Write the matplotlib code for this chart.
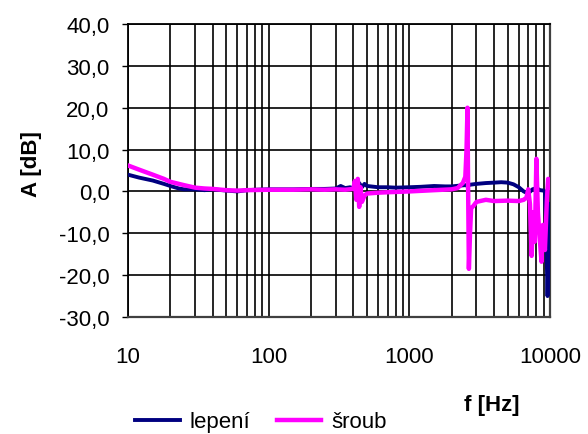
import matplotlib
matplotlib.use("Agg")
import matplotlib.pyplot as plt
from matplotlib.ticker import FixedLocator, NullFormatter, FixedFormatter

plt.rcParams['font.family'] = ['Liberation Sans', 'DejaVu Sans']

# lepení (glued)
f_lep = [10, 12, 15, 18, 20, 23, 25, 30, 35, 40, 50, 60, 70, 80, 100, 150, 200,
         250, 300, 325, 350, 380, 400, 420, 440, 460, 480, 500, 600, 700, 800,
         1000, 1200, 1500, 1800, 2000, 2300, 2500, 2600, 2700, 3000, 3500, 4000,
         4500, 5000, 5500, 6000, 6500, 7000, 7500, 8000, 8500, 9000, 9200, 9400,
         9600, 9800, 10000]
a_lep = [4.0, 3.3, 2.6, 1.8, 1.3, 0.7, 0.5, 0.5, 0.3, 0.5, 0.2, 0.0, 0.3, 0.4,
         0.5, 0.5, 0.6, 0.6, 0.7, 1.3, 0.8, 1.0, 0.6, 1.5, 2.0, 1.0, 1.8, 1.3,
         1.0, 1.0, 0.9, 1.0, 1.1, 1.3, 1.2, 1.2, 1.4, 1.5, 1.3, 1.6, 1.8, 2.0,
         2.1, 2.2, 2.1, 1.7, 1.0, 0.0, -0.5, 0.5, 0.8, 0.3, 0.2, 0.0, -10.0,
         -25.0, -12.0, -3.0]

# šroub (screwed)
f_sr = [10, 12, 15, 18, 20, 23, 25, 30, 35, 40, 50, 60, 70, 100, 150, 200, 250,
        300, 350, 400, 410, 420, 430, 440, 450, 460, 480, 500, 600, 700, 1000,
        1500, 2000, 2200, 2400, 2500, 2550, 2590, 2610, 2650, 2700, 2750, 2850,
        3000, 3500, 4000, 5000, 6000, 6500, 6800, 7000, 7200, 7400, 7600, 7800,
        8000, 8200, 8400, 8700, 8900, 9200, 9500, 9700, 10000]
a_sr = [6.2, 5.2, 4.0, 3.0, 2.3, 1.8, 1.5, 0.9, 0.7, 0.6, 0.3, 0.2, 0.3, 0.4,
        0.4, 0.5, 0.4, 0.5, 0.4, 0.6, 2.5, -2.0, 3.0, -3.7, 1.0, -2.5, -1.0,
        -0.5, -0.3, -0.2, 0.0, 0.3, 0.5, 0.8, 2.0, 3.5, 10.0, 20.0, 5.0, -18.5,
        -10.0, -4.0, -3.5, -2.5, -2.0, -2.3, -2.2, -2.3, -2.0, -1.5, 0.5, -3.0,
        -15.4, -5.0, -12.0, 7.8, -5.0, -10.0, -16.8, -8.0, -14.0, -2.0, 3.0, 1.0]

y_ticks = [-30, -20, -10, 0, 10, 20, 30, 40]
y_labels = ["-30,0", "-20,0", "-10,0", "0,0", "10,0", "20,0", "30,0", "40,0"]
x_major = [10, 100, 1000, 10000]
x_labels = ["10", "100", "1000", "10000"]
x_minor = [m * d for d in (10, 100, 1000) for m in range(2, 10)]

fig = plt.figure(figsize=(5.88, 4.35), dpi=100)
ax = fig.add_axes([0.2177, 0.269, 0.7177, 0.6735])

ax.plot(f_lep, a_lep, color='#000080', lw=2.8, zorder=3, label='lepení')
ax.plot(f_sr, a_sr, color='#FF00FF', lw=3.2, zorder=4, label='šroub')

ax.set_xscale('log')
ax.set_xlim(10, 10000)
ax.set_ylim(-30, 40)
ax.xaxis.set_major_locator(FixedLocator(x_major))
ax.xaxis.set_major_formatter(FixedFormatter(x_labels))
ax.xaxis.set_minor_locator(FixedLocator(x_minor))
ax.xaxis.set_minor_formatter(NullFormatter())
ax.set_yticks(y_ticks)
ax.set_yticklabels(y_labels)

ax.grid(True, which='both', axis='x', color='black', lw=1.2, zorder=1)
ax.grid(True, which='major', axis='y', color='black', lw=1.2, zorder=1)
ax.set_axisbelow(True)

ax.tick_params(axis='x', which='both', length=0, pad=21, labelsize=16)
ax.tick_params(axis='y', length=4.3, width=1.0, pad=9, labelsize=16,
               direction='out', color='black')

for s in ('left', 'top'):
    ax.spines[s].set_color('black')
    ax.spines[s].set_linewidth(1.3)
for s in ('right', 'bottom'):
    ax.spines[s].set_color('#404040')
    ax.spines[s].set_linewidth(1.6)

fig.text(0.053, 0.623, 'A [dB]', rotation=90, ha='center', va='center',
         fontsize=16, fontweight='bold')
fig.text(0.837, 0.067, 'f [Hz]', ha='center', va='center',
         fontsize=16, fontweight='bold')

fig.legend(loc='center', bbox_to_anchor=(0.444, 0.028), ncol=2, frameon=False,
           fontsize=16, handlelength=2.0, handletextpad=0.45, columnspacing=1.2,
           borderpad=0, borderaxespad=0)

fig.savefig('out.png', dpi=100)
